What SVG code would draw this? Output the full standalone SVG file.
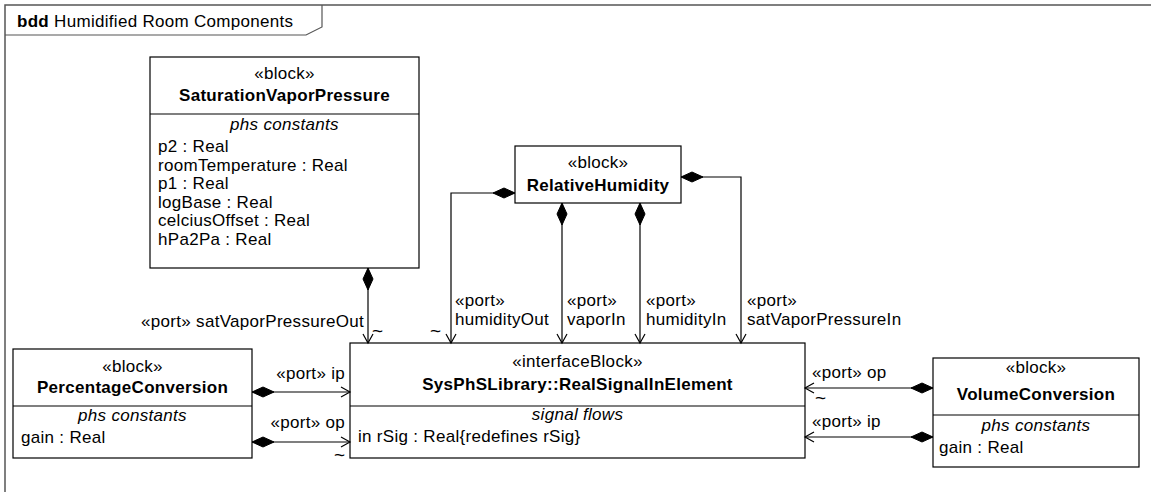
<svg xmlns="http://www.w3.org/2000/svg" width="1151" height="492" viewBox="0 0 1151 492">
<style>
text{font-family:"Liberation Sans",Arial,sans-serif;font-size:17px;letter-spacing:0.3px;fill:#000}
.b{font-weight:bold}
.i{font-style:italic}
.c{text-anchor:middle}
.e{text-anchor:end}
.t{font-size:19px}
.box{fill:#fff;stroke:#000;stroke-width:1.2}
.div{stroke:#000;stroke-width:1.2}
.frame{fill:#fff;stroke:#555;stroke-width:1.5}
.conn{fill:none;stroke:#000;stroke-width:1.2;marker-start:url(#dia);marker-end:url(#arr)}
</style>
<defs>
<marker id="dia" markerUnits="userSpaceOnUse" markerWidth="26" markerHeight="14" refX="0" refY="0" viewBox="-1 -7 26 14" orient="auto" overflow="visible">
<path d="M0,0 L11,-5 L22,0 L11,5 Z" fill="#000" stroke="#000" stroke-width="1"/>
</marker>
<marker id="arr" markerUnits="userSpaceOnUse" markerWidth="14" markerHeight="14" refX="0" refY="0" viewBox="-12 -7 14 14" orient="auto" overflow="visible">
<path d="M-9,-5 L0,0 L-9,5" fill="none" stroke="#000" stroke-width="1.2"/>
</marker>
</defs>
<rect width="1151" height="492" fill="#fff"/>
<g id="frame">
<rect class="frame" x="5" y="5" width="1160" height="500"/>
<path d="M5,35 H306 L322,27 V5" fill="none" stroke="#555" stroke-width="1.2"/>
<text x="17" y="27"><tspan class="b">bdd</tspan> Humidified Room Components</text>
</g>
<g id="SaturationVaporPressure">
<rect class="box" x="150" y="57" width="269" height="211"/>
<line class="div" x1="150" y1="114" x2="419" y2="114"/>
<text class="c" x="284.5" y="79">«block»</text>
<text class="c b" x="284.5" y="101">SaturationVaporPressure</text>
<text class="c i" x="284.5" y="130">phs constants</text>
<text x="158" y="152">p2 : Real</text>
<text x="158" y="171">roomTemperature : Real</text>
<text x="158" y="189">p1 : Real</text>
<text x="158" y="208">logBase : Real</text>
<text x="158" y="226">celciusOffset : Real</text>
<text x="158" y="245">hPa2Pa : Real</text>
</g>
<g id="RelativeHumidity">
<rect class="box" x="515" y="146" width="166" height="57"/>
<text class="c" x="598" y="168">«block»</text>
<text class="c b" x="598" y="191">RelativeHumidity</text>
</g>
<g id="RealSignalInElement">
<rect class="box" x="350" y="343" width="455" height="115"/>
<line class="div" x1="350" y1="406" x2="805" y2="406"/>
<text class="c" x="577.5" y="367">«interfaceBlock»</text>
<text class="c b" x="577.5" y="390">SysPhSLibrary::RealSignalInElement</text>
<text class="c i" x="577.5" y="420">signal flows</text>
<text x="358" y="442">in rSig : Real{redefines rSig}</text>
</g>
<g id="PercentageConversion">
<rect class="box" x="13" y="349" width="239" height="109"/>
<line class="div" x1="13" y1="406" x2="252" y2="406"/>
<text class="c" x="132.5" y="372">«block»</text>
<text class="c b" x="132.5" y="393">PercentageConversion</text>
<text class="c i" x="132.5" y="421">phs constants</text>
<text x="21" y="443">gain : Real</text>
</g>
<g id="VolumeConversion">
<rect class="box" x="933" y="358" width="206" height="109"/>
<line class="div" x1="933" y1="415" x2="1139" y2="415"/>
<text class="c" x="1036" y="373">«block»</text>
<text class="c b" x="1036" y="400">VolumeConversion</text>
<text class="c i" x="1036" y="431">phs constants</text>
<text x="939" y="453">gain : Real</text>
</g>
<g id="connectors">
<path class="conn" d="M368,268 V343"/>
<path class="conn" d="M515,193 H451 V343"/>
<path class="conn" d="M562,203 V343"/>
<path class="conn" d="M640,203 V343"/>
<path class="conn" d="M681,177 H741 V343"/>
<path class="conn" d="M252,392 H350"/>
<path class="conn" d="M252,442 H350"/>
<path class="conn" d="M933,388 H805"/>
<path class="conn" d="M933,437 H805"/>
<text class="e" x="364" y="327">«port» satVaporPressureOut</text>
<text class="t" x="372" y="337">~</text>
<text x="455" y="306">«port»</text>
<text x="455" y="325">humidityOut</text>
<text class="t" x="430" y="337">~</text>
<text x="567" y="306">«port»</text>
<text x="567" y="325">vaporIn</text>
<text x="646" y="306">«port»</text>
<text x="646" y="325">humidityIn</text>
<text x="747" y="306">«port»</text>
<text x="747" y="325">satVaporPressureIn</text>
<text class="e" x="345" y="379">«port» ip</text>
<text class="e" x="345" y="428">«port» op</text>
<text class="t" x="334" y="461">~</text>
<text x="812" y="378">«port» op</text>
<text class="t" x="815" y="404">~</text>
<text x="812" y="427">«port» ip</text>
</g>
</svg>
